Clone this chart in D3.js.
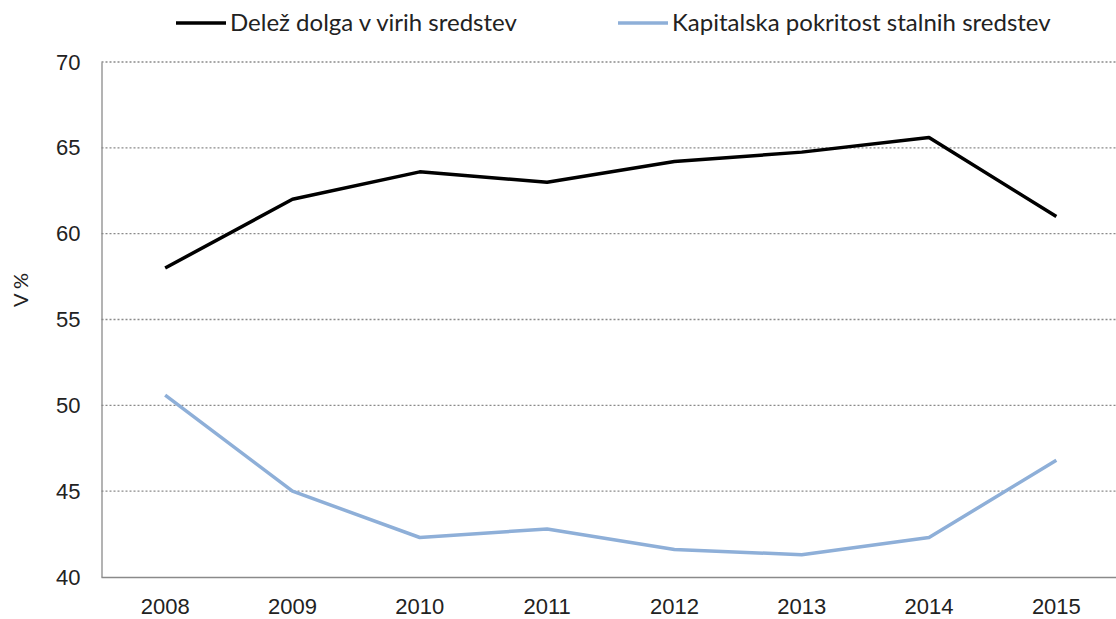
<!DOCTYPE html>
<html>
<head>
<meta charset="utf-8">
<script src="https://cdn.jsdelivr.net/npm/d3@7"></script>
<style>
  html, body { margin: 0; padding: 0; background: #fff; }
  svg { display: block; font-family: Lato, "Noto Sans", sans-serif; }
</style>
</head>
<body>
<svg id="chart" width="1116" height="619"></svg>
<script>
const years = ["2008", "2009", "2010", "2011", "2012", "2013", "2014", "2015"];
const debtShare = [58.0, 62.0, 63.6, 63.0, 64.2, 64.75, 65.6, 61.0];
const capitalCoverage = [50.6, 45.0, 42.3, 42.8, 41.6, 41.3, 42.3, 46.8];
const yTicks = [40, 45, 50, 55, 60, 65, 70];
const seriesNames = ["Delež dolga v virih sredstev", "Kapitalska pokritost stalnih sredstev"];
const seriesColors = ["#000000", "#8eafd8"];

const svg = d3.select("#chart");
const plotLeft = 101.5, plotRight = 1120, plotTop = 62, plotBottom = 577;

const x = d3.scaleBand().domain(years).range([plotLeft, plotRight]);
const y = d3.scaleLinear().domain([40, 70]).range([plotBottom, plotTop]);

// horizontal dotted gridlines
svg.append("g")
  .selectAll("line")
  .data(yTicks.filter(t => t > 40))
  .join("line")
  .attr("x1", plotLeft).attr("x2", 1116)
  .attr("y1", d => y(d)).attr("y2", d => y(d))
  .attr("stroke", "#8a8a8a")
  .attr("stroke-width", 1.3)
  .attr("stroke-dasharray", "2,2");

// y axis
const yAxis = svg.append("g")
  .attr("transform", `translate(${plotLeft},0)`)
  .call(d3.axisLeft(y).tickValues(yTicks).tickSize(0).tickPadding(21));
yAxis.select(".domain").attr("stroke", "#8a8a8a").attr("stroke-width", 1.3);
yAxis.selectAll("text").attr("font-size", 22).attr("fill", "#222");

// x axis
const xAxis = svg.append("g")
  .attr("transform", `translate(0,${plotBottom})`)
  .call(d3.axisBottom(x).tickSize(0).tickPadding(21));
xAxis.select(".domain").attr("d", `M${plotLeft},0.5H1116`).attr("stroke", "#8a8a8a").attr("stroke-width", 1.3);
xAxis.selectAll("text").attr("font-size", 22).attr("fill", "#222");

// y axis title
svg.append("text")
  .attr("transform", "translate(28,290) rotate(-90)")
  .attr("text-anchor", "middle")
  .attr("font-size", 20)
  .attr("fill", "#222")
  .text("V %");

// series lines
const line = d3.line()
  .x((d, i) => x(years[i]) + x.bandwidth() / 2)
  .y(d => y(d));

[debtShare, capitalCoverage].forEach((vals, k) => {
  svg.append("path")
    .datum(vals)
    .attr("d", line)
    .attr("fill", "none")
    .attr("stroke", seriesColors[k])
    .attr("stroke-width", 3.5)
    .attr("stroke-linejoin", "round");
});

// legend
const legendX = [176, 618];
seriesNames.forEach((name, k) => {
  const g = svg.append("g").attr("transform", `translate(${legendX[k]},23)`);
  g.append("line").attr("x1", 0).attr("x2", 50).attr("y1", 0).attr("y2", 0)
    .attr("stroke", seriesColors[k]).attr("stroke-width", 3.5);
  g.append("text").attr("x", 54).attr("y", 0).attr("dy", "0.35em")
    .attr("font-size", 24).attr("fill", "#222").text(name);
});
</script>
</body>
</html>
